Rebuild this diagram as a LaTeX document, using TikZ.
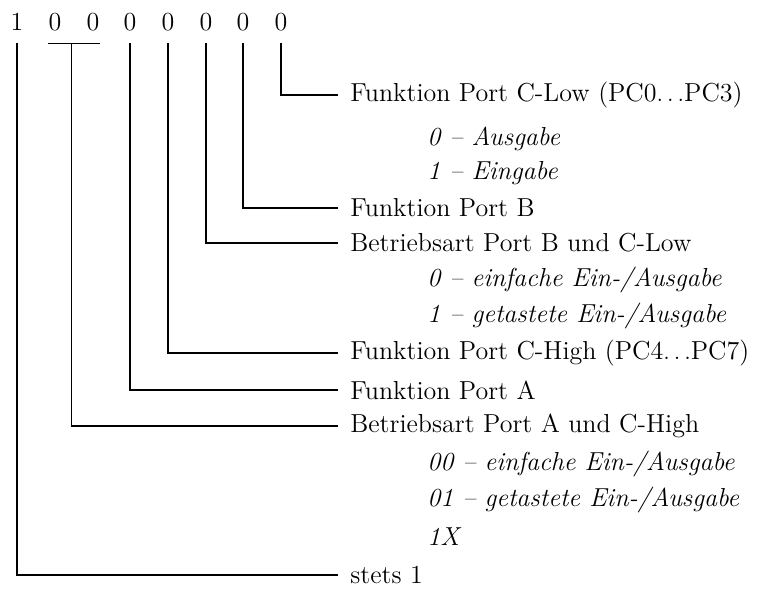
\documentclass[tikz,border=0pt]{standalone}
\usetikzlibrary{positioning, calc}
\newcommand{\bitfont}{\fontsize{13}{15}\selectfont}
\tikzset{
  bitnode/.style={inner sep=0pt, minimum height=21pt, font=\bitfont},
  funcnode/.style={anchor=west, inner xsep=6pt, inner ysep=0pt, font=\bitfont},
  optnode/.style={anchor=west, inner sep=0pt, font=\bitfont\itshape},
  bline/.style={line width=0.7pt},
}
\begin{document}
\begin{tikzpicture}[x=0.5pt, y=-0.5pt]
  \useasboundingbox (0,0) rectangle (770,597);
  % bits of the control word
  \foreach \n/\x/\v in {7/17/1,6/55/0,5/93/0,4/130/0,3/168/0,2/206/0,1/243/0,0/281/0}
    \node[bitnode] (b\n) at (\x,22) {\v};
  % meaning of the bits
  \node[funcnode] (f0) at (338,95) {Funktion Port C-Low (PC0$\ldots$PC3)};
  \node[optnode] (o0a) at (427,139) {0 -- Ausgabe};
  \node[optnode] (o0b) at (427,173) {1 -- Eingabe};
  \node[funcnode] (f1) at (338,208) {Funktion Port B};
  \node[funcnode] (f2) at (338,243) {Betriebsart Port B und C-Low};
  \node[optnode] (o2a) at (427,280) {0 -- einfache Ein-/Ausgabe};
  \node[optnode] (o2b) at (427,316) {1 -- getastete Ein-/Ausgabe};
  \node[funcnode] (f3) at (338,353) {Funktion Port C-High (PC4$\ldots$PC7)};
  \node[funcnode] (f4) at (338,390) {Funktion Port A};
  \node[funcnode] (f56) at (338,426) {Betriebsart Port A und C-High};
  \node[optnode] (o56a) at (427,464) {00 -- einfache Ein-/Ausgabe};
  \node[optnode] (o56b) at (427,500) {01 -- getastete Ein-/Ausgabe};
  \node[optnode] (o56c) at (427,537) {1X};
  \node[funcnode] (f7) at (338,575) {stets 1};
  % connectors
  \foreach \n in {0,1,2,3,4,7} \draw[bline] (b\n.south) |- (f\n.west);
  \draw[bline] ([xshift=-3.5pt]b6.south) -- ([xshift=3.5pt]b5.south);
  \coordinate (m56) at ($(b6.south)!0.43!(b5.south)$);
  \draw[bline] (m56) |- (f56.west);
\end{tikzpicture}
\end{document}
